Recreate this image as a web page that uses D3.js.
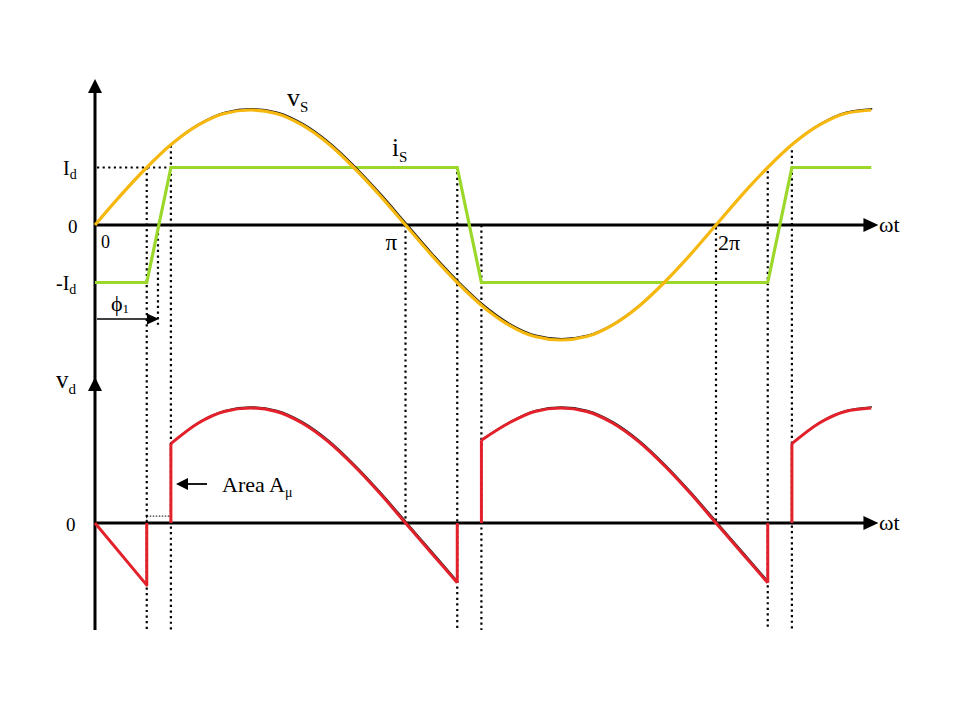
<!DOCTYPE html>
<html><head><meta charset="utf-8">
<script src="https://cdn.jsdelivr.net/npm/d3@7"></script>
<style>body{margin:0;background:#fff}svg{display:block}text{font-family:"Liberation Serif","DejaVu Serif",serif;fill:#000}</style>
</head><body><svg id="c" width="960" height="720"></svg>
<script>
// ---- data (angles in degrees of ωt, values normalised to the vs peak) ----
const vsAngles = [0,15,30,45,60,75,90,105,120,135,150,165,180,195,210,225,240,255,270,285,300,315,330,345,360,375,390,405,420,435,450];
const vsValues = [0,0.26,0.5,0.71,0.87,0.97,1,0.97,0.87,0.71,0.5,0.26,0,-0.26,-0.5,-0.71,-0.87,-0.97,-1,-0.97,-0.87,-0.71,-0.5,-0.26,0,0.26,0.5,0.71,0.87,0.97,1];
const IdLevel = 0.5;
const isAngles = [0,30,44,210,224,390,404,450];
const isValues = [-1,-1,1,1,-1,-1,1,1]; // in units of Id
// vd: straight pieces and smooth arcs
const vdLinePieces = [
  [[0,0],[30,-0.54],[30,0]],
  [[44,0],[44,0.69]],
  [[210,-0.52],[210,0]],
  [[224,0],[224,0.72]],
  [[390,-0.52],[390,0]],
  [[404,0],[404,0.69]]
];
const vdArc1 = [[44,0.69],[60,0.87],[75,0.97],[90,1],[105,0.97],[120,0.87],[135,0.71],[150,0.5],[165,0.26],[180,0],[195,-0.26],[210,-0.52]];
const vdArc2 = [[224,0.72],[240,0.87],[255,0.97],[270,1],[285,0.97],[300,0.87],[315,0.71],[330,0.5],[345,0.26],[360,0],[375,-0.26],[390,-0.52]];
const vdArc3 = [[404,0.69],[420,0.87],[435,0.97],[450,1]];
const xTickDeg = [0,180,360];
const xTickLabels = ["0","π","2π"];
// dotted guides: angle, top (panel,value), bottom (panel,value)
const guides = [
  {a:30, y0:["t",0.5], y1:["b",-0.93]},
  {a:44, y0:["t",0.69], y1:["b",-0.93]},
  {a:180, y0:["t",0], y1:["b",0.02]},
  {a:210, y0:["t",0.46], y1:["b",-0.93]},
  {a:224, y0:["t",0], y1:["b",-0.93]},
  {a:360, y0:["t",-0.02], y1:["b",0.02]},
  {a:390, y0:["t",0.47], y1:["b",-0.93]},
  {a:404, y0:["t",0.65], y1:["b",-0.93]}
];

const svg = d3.select("#c");
const x = d3.scaleLinear().domain([0,360]).range([95,716]);
const yT = d3.scaleLinear().domain([-1,1]).range([340,110]);
const yB = d3.scaleLinear().domain([-1,1]).range([638,408]);
const Y = (p,v)=> p==="t"? yT(v): yB(v);

function arrowHead(xt,yt,dir,len,half){
  let d;
  if(dir==='r') d=`M${xt},${yt}L${xt-len},${yt-half}L${xt-len},${yt+half}Z`;
  else d=`M${xt},${yt}L${xt-half},${yt+len}L${xt+half},${yt+len}Z`;
  svg.append("path").attr("d",d).attr("fill","#000");
}

// dotted guides
function dline(x1,y1,x2,y2){
  svg.append("line").attr("x1",x1).attr("y1",y1).attr("x2",x2).attr("y2",y2)
    .attr("stroke","#000").attr("stroke-width",2.2).attr("stroke-dasharray","2.2,3.4");
}
guides.forEach(g=> dline(x(g.a),Y(...g.y0),x(g.a),Y(...g.y1)));
dline(x(0)+2,yT(IdLevel),x(44),yT(IdLevel));
dline(x(36.5),yT(-0.07),x(36.5),yT(-0.88));
// Area A_mu dotted box
svg.append("rect").attr("x",x(30)).attr("y",yB(0.06)).attr("width",x(44)-x(30)).attr("height",yB(0)-yB(0.06))
  .attr("fill","none").attr("stroke","#000").attr("stroke-width",1).attr("stroke-dasharray","1.5,1.5");

// axes
const axW=3;
svg.append("line").attr("x1",x(0)).attr("y1",90).attr("x2",x(0)).attr("y2",630).attr("stroke","#000").attr("stroke-width",axW);
arrowHead(x(0),79,'u',14,7);
arrowHead(x(0),377,'u',14,7);
["t","b"].forEach(p=>{
  svg.append("line").attr("x1",x(0)).attr("y1",Y(p,0)).attr("x2",x(453)-10).attr("y2",Y(p,0)).attr("stroke","#000").attr("stroke-width",axW);
  arrowHead(x(453)+2,Y(p,0),'r',15,7);
});

// is
const lin = d3.line().x(d=>x(d[0])).y(d=>d[1]);
svg.append("path").attr("d",lin(isAngles.map((a,i)=>[a,yT(isValues[i]*IdLevel)])))
  .attr("fill","none").attr("stroke","#9bd82a").attr("stroke-width",3.2).attr("stroke-linejoin","miter");

// vs: thin black trace under the orange one
const vsPts = vsAngles.map((a,i)=>[a,vsValues[i]]);
const smoothT = d3.line().x(d=>x(d[0])).y(d=>yT(d[1])).curve(d3.curveMonotoneX);
svg.append("path").attr("d",smoothT(vsPts)).attr("transform","translate(1,-1.2)")
  .attr("fill","none").attr("stroke","#111").attr("stroke-width",1.6);
svg.append("path").attr("d",smoothT(vsPts)).attr("fill","none").attr("stroke","#f6b80e").attr("stroke-width",3.2);

// vd
const smoothB = d3.line().x(d=>x(d[0])).y(d=>yB(d[1])).curve(d3.curveMonotoneX);
const linB = d3.line().x(d=>x(d[0])).y(d=>yB(d[1]));
[vdArc1,vdArc2,vdArc3].forEach(a=>{
  svg.append("path").attr("d",smoothB(a)).attr("transform","translate(0.8,-1.2)").attr("fill","none").attr("stroke","#222").attr("stroke-width",1.2);
});
vdLinePieces.forEach(p=>{
  svg.append("path").attr("d",linB(p)).attr("fill","none").attr("stroke","#e3212b").attr("stroke-width",3).attr("stroke-linejoin","round");
});
[vdArc1,vdArc2,vdArc3].forEach(a=>{
  svg.append("path").attr("d",smoothB(a)).attr("fill","none").attr("stroke","#e3212b").attr("stroke-width",3);
});

// labels
function lab(tx,ty,main,sub,fs,subfs,dyk){
  const t=svg.append("text").attr("x",tx).attr("y",ty).attr("font-size",fs);
  t.append("tspan").text(main);
  if(sub) t.append("tspan").attr("font-size",subfs).attr("dy",fs*(dyk==null?0.22:dyk)).text(sub);
  return t;
}
lab(63,175,"I","d",20,14);
lab(56,290,"-I","d",20,14);
lab(68,233,"0",null,19);
lab(101,248,xTickLabels[0],null,18);
lab(x(xTickDeg[1])-20,250,xTickLabels[1],null,23);
lab(x(xTickDeg[2])+2,250,xTickLabels[2],null,22);
lab(287,106,"v","S",26,15);
lab(392,156,"i","S",25,15);
lab(879,232,"ωt",null,22);
lab(879,530,"ωt",null,22);
lab(56,388,"v","d",25,15);
lab(66,531,"0",null,19);
lab(111,311,"ϕ","1",22,13,0.1);
lab(222,492,"Area A","μ",22,14);

// phi1 arrow
svg.append("line").attr("x1",x(0)+2).attr("y1",319).attr("x2",x(36.5)-10).attr("y2",319).attr("stroke","#000").attr("stroke-width",1.5);
arrowHead(x(36.5)+1,319,'r',12,5.5);
// Area arrow
svg.append("line").attr("x1",207).attr("y1",484).attr("x2",186).attr("y2",484).attr("stroke","#000").attr("stroke-width",1.8);
svg.append("path").attr("d","M176,484L188,478L188,490Z").attr("fill","#000");
</script></body></html>
